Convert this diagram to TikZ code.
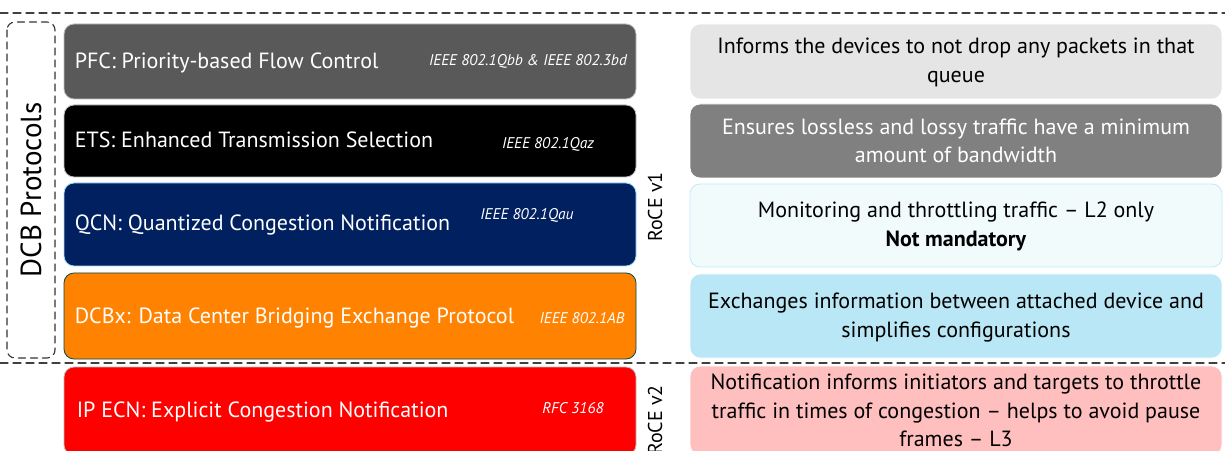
\documentclass[tikz,border=0pt]{standalone}
\usepackage{fontspec}
\setmainfont{PT Sans}
\usetikzlibrary{positioning}
\definecolor{pfcgray}{HTML}{595959}
\definecolor{qcnnavy}{HTML}{002060}
\definecolor{dcbxorange}{HTML}{FF8200}
\definecolor{ecnred}{HTML}{FF0000}
\definecolor{descone}{HTML}{E5E5E5}
\definecolor{desctwo}{HTML}{808080}
\definecolor{descthree}{HTML}{F1FBFC}
\definecolor{descfour}{HTML}{B9E7F5}
\definecolor{descfive}{HTML}{FFBFBF}
\begin{document}
\begin{tikzpicture}[x=1pt,y=1pt,line join=round,line cap=round]
  \tikzset{proto/.style={rounded corners=10pt,minimum width=572pt,inner sep=0pt,draw=white!75!black,line width=0.8pt},
    desc/.style={rounded corners=10pt,minimum width=532pt,inner sep=0pt,align=center,draw=white,line width=0.8pt,font=\fontsize{22}{28.5}\selectfont},
    ptext/.style={anchor=west,text=white,inner sep=0pt,font=\fontsize{22}{24}\selectfont},
    std/.style={text=white,inner sep=0pt,font=\fontsize{15.5}{17}\selectfont\itshape},
    roce/.style={rotate=90,font=\fontsize{20}{22}\selectfont},
    sep/.style={dash pattern=on 8pt off 5pt,line width=1.2pt,black!75}}
  %% page size
  \useasboundingbox (0,0) rectangle (1225,450);
  %% separators
  \draw[sep] (0,437) -- (1225,437);
  \draw[sep] (0,87) -- (1225,87);
  %% DCB group
  \node[rotate=90,draw=black!80,dash pattern=on 7pt off 5pt,line width=1.1pt,rounded corners=8pt,minimum width=336pt,minimum height=48pt,
    font=\fontsize{29}{31}\selectfont] (dcb) at (31,260) {DCB Protocols};
  %% protocols
  \node[proto,fill=pfcgray,minimum height=75pt] (pfc) at (350,388.5) {};
  \node[proto,fill=black,minimum height=72pt] (ets) at (350,309) {};
  \node[proto,fill=qcnnavy,draw=cyan!40,minimum height=83pt] (qcn) at (350,225.5) {};
  \node[proto,fill=dcbxorange,draw=teal!60!black,minimum height=86pt] (dcbx) at (350,134) {};
  \node[proto,fill=ecnred,minimum height=88pt] (ecn) at (350,39) {};
  \node[ptext] (pfct) at ([xshift=11pt,yshift=-1pt]pfc.west) {PFC: Priority-based Flow Control};
  \node[ptext] (etst) at ([xshift=11pt,yshift=1pt]ets.west) {ETS: Enhanced Transmission Selection};
  \node[ptext] (qcnt) at ([xshift=11pt,yshift=-1pt]qcn.west) {QCN: Quantized Congestion Notification};
  \node[ptext] (dcbxt) at ([xshift=11pt,yshift=-2pt]dcbx.west) {DCBx: Data Center Bridging Exchange Protocol};
  \node[ptext] (ecnt) at ([xshift=13pt,yshift=-1pt]ecn.west) {IP ECN: Explicit Congestion Notification};
  \node[std] (pfcs) at (528,389) {IEEE 802.1Qbb \& IEEE 802.3bd};
  \node[std] (etss) at (548,306) {IEEE 802.1Qaz};
  \node[std] (qcns) at (527,235) {IEEE 802.1Qau};
  \node[std] (dcbxs) at (582,132) {IEEE 802.1AB};
  \node[std] (ecns) at (573,42) {RFC 3168};
  %% RoCE versions
  \node[roce] (v1) at (655,243) {RoCE v1};
  \node[roce] (v2) at (655,30) {RoCE v2};
  %% descriptions
  \node[desc,fill=descone,minimum height=75pt,text depth=3pt] (d1) at (956,388.5)
    {Informs the devices to not drop any packets in that\\queue};
  \node[desc,fill=desctwo,text=white,minimum height=74pt] (d2) at (956,309)
    {Ensures lossless and lossy traffic have a minimum\\amount of bandwidth};
  \node[desc,fill=descthree,draw=cyan!25,minimum height=83pt,text depth=3pt] (d3) at (956,224.5)
    {Monitoring and throttling traffic -- L2 only\\\textbf{Not mandatory}};
  \node[desc,fill=descfour,minimum height=84pt,text depth=2pt] (d4) at (956,134)
    {Exchanges information between attached device and\\simplifies configurations};
  \node[desc,fill=descfive,minimum height=89pt] (d5) at (956,39.5)
    {Notification informs initiators and targets to throttle\\traffic in times of congestion -- helps to avoid pause\\frames -- L3};
\end{tikzpicture}
\end{document}
